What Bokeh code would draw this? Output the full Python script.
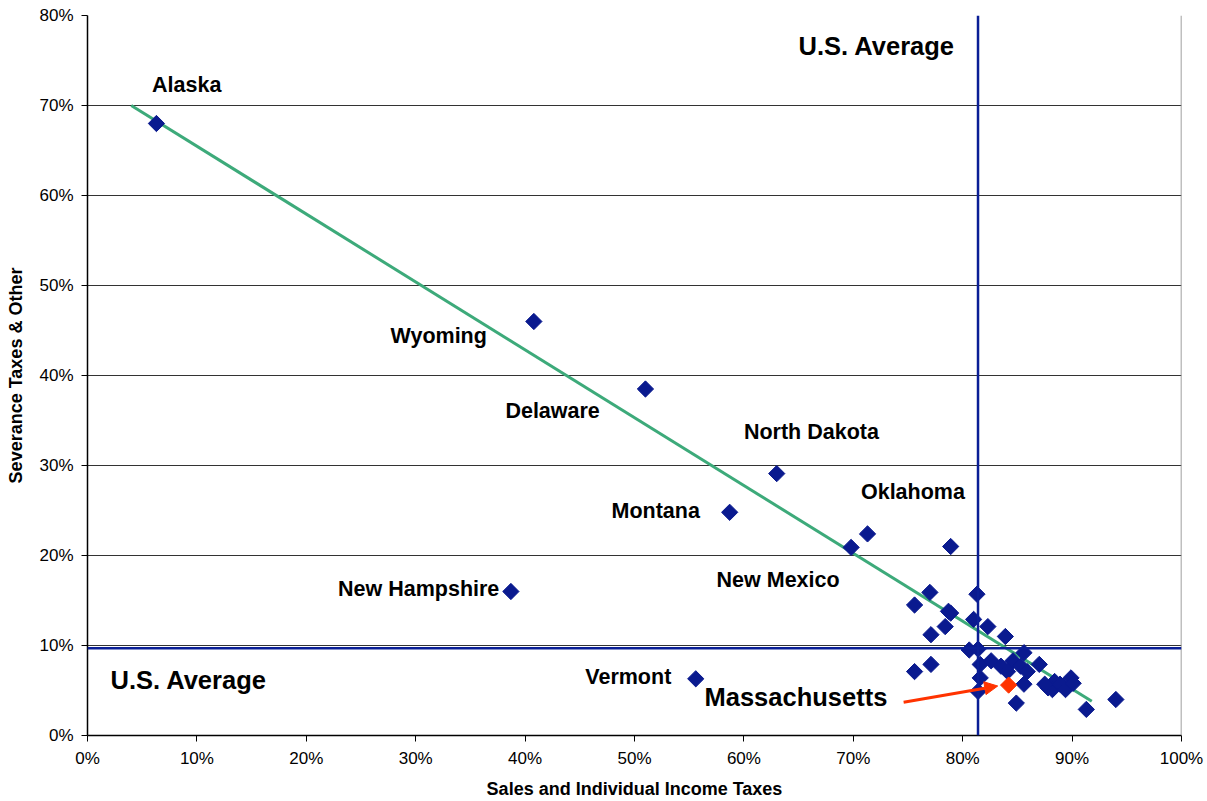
from bokeh.plotting import figure
from bokeh.models import (ColumnDataSource, Label, Arrow, NormalHead, Span,
                          PrintfTickFormatter, FixedTicker, Range1d)
from bokeh.embed import file_html
from bokeh.resources import INLINE
import math

# State tax mix: share of revenue from sales + individual income taxes (x)
# versus severance taxes & other (y), in percent.
sales_income = [6.3, 40.8, 51.0, 63.0, 58.7, 38.7, 55.6, 69.8, 71.3, 78.9,
                77.0, 75.6, 81.3, 78.9, 78.7, 78.4, 77.1, 81.0, 82.3, 83.9,
                80.6, 81.4, 85.6, 75.6, 77.1, 81.6, 82.6, 83.5, 84.1, 84.6,
                81.6, 85.3, 85.9, 87.0, 85.6, 81.4, 84.9, 87.8, 88.4, 88.2,
                87.5, 88.9, 89.4, 89.9, 90.1, 91.3, 94.0]
severance_other = [68.0, 46.0, 38.5, 29.1, 24.8, 16.0, 6.3, 20.9, 22.4, 21.0,
                   15.9, 14.5, 15.7, 13.6, 13.8, 12.1, 11.2, 12.9, 12.1, 11.0,
                   9.5, 9.6, 9.2, 7.1, 7.9, 7.9, 8.3, 7.7, 7.1, 8.3,
                   6.4, 7.7, 7.1, 7.9, 5.7, 4.9, 3.6, 5.3, 6.0, 5.1,
                   5.7, 5.7, 5.1, 6.4, 5.8, 2.9, 4.0]

# Massachusetts highlighted separately
ma_x = [84.2]
ma_y = [5.6]

# U.S. averages
us_avg_x = 81.4
us_avg_y = 9.7

# Linear trend line end points
trend_x = [4.0, 91.8]
trend_y = [70.0, 3.8]

# State name labels (x, y of left edge / vertical middle)
state_names = ["Alaska", "Wyoming", "Delaware", "North Dakota", "Oklahoma",
               "Montana", "New Mexico", "New Hampshire", "Vermont"]
state_lx = [5.9, 27.7, 38.2, 60.0, 70.7, 47.9, 57.5, 22.9, 45.5]
state_ly = [72.3, 44.4, 36.1, 33.7, 27.1, 25.0, 17.3, 16.3, 6.5]

x_ticks = list(range(0, 101, 10))
y_ticks = list(range(0, 81, 10))

FONT = "Liberation Sans"
NAVY = "#0A1A8F"
RED = "#FF3300"

p = figure(width=1207, height=801, output_backend="svg", toolbar_location=None,
           x_range=Range1d(0, 100), y_range=Range1d(0, 80),
           min_border_left=87, min_border_right=26, min_border_top=15,
           min_border_bottom=66)
p.outline_line_color = None
p.background_fill_color = "white"

# Grid: horizontal lines only
p.xgrid.grid_line_color = None
p.ygrid.grid_line_color = "#333333"
p.ygrid.grid_line_width = 1
p.ygrid.ticker = FixedTicker(ticks=y_ticks)

for ax in (p.xaxis[0], p.yaxis[0]):
    ax.axis_line_color = "black"
    ax.axis_line_width = 1.5
    ax.major_tick_line_color = "black"
    ax.major_tick_in = 0
    ax.major_tick_out = 6
    ax.minor_tick_line_color = None
    ax.major_label_text_font = FONT
    ax.major_label_text_font_size = "17px"
    ax.major_label_text_color = "black"
    ax.axis_label_text_font = FONT
    ax.axis_label_text_font_style = "bold"
    ax.axis_label_text_font_size = "18px"
    ax.axis_label_text_color = "black"

p.xaxis.ticker = FixedTicker(ticks=x_ticks)
p.yaxis.ticker = FixedTicker(ticks=y_ticks)
p.xaxis.formatter = PrintfTickFormatter(format="%d%%")
p.yaxis.formatter = PrintfTickFormatter(format="%d%%")
p.xaxis.major_label_standoff = 7
p.yaxis.major_label_standoff = 8
p.xaxis.axis_label = "Sales and Individual Income Taxes"
p.yaxis.axis_label = "Severance Taxes & Other"
p.xaxis.axis_label_standoff = 8
p.yaxis.axis_label_standoff = 10

# Right edge of the plot area
p.add_layout(Span(location=100, dimension="height",
                  line_color="#808080", line_width=1.5))

# U.S. average reference lines
p.add_layout(Span(location=us_avg_y, dimension="width",
                  line_color="#0A1E96", line_width=2.5))
p.add_layout(Span(location=us_avg_x, dimension="height",
                  line_color="#0A1E96", line_width=2.5))

# Trend line
p.line(trend_x, trend_y, line_color="#3DAA7A", line_width=3)

# States (rotated squares)
src = ColumnDataSource(dict(x=sales_income, y=severance_other))
p.scatter("x", "y", source=src, marker="square", size=11.5,
          angle=math.pi / 4, fill_color=NAVY, line_color=NAVY)
p.scatter(ma_x, ma_y, marker="square", size=11.5, angle=math.pi / 4,
          fill_color=RED, line_color=RED)

# Labels
for name, lx, ly in zip(state_names, state_lx, state_ly):
    p.add_layout(Label(x=lx, y=ly, text=name, text_font=FONT,
                       text_font_style="bold", text_font_size="21.5px",
                       text_align="left", text_baseline="middle",
                       text_color="black"))

for txt, lx, ly in [("U.S. Average", 2.1, 6.15), ("U.S. Average", 65.0, 76.6),
                    ("Massachusetts", 56.4, 4.26)]:
    p.add_layout(Label(x=lx, y=ly, text=txt, text_font=FONT,
                       text_font_style="bold", text_font_size="25.5px",
                       text_align="left", text_baseline="middle",
                       text_color="black"))

# Arrow pointing to Massachusetts
p.add_layout(Arrow(end=NormalHead(size=13, fill_color=RED, line_color=RED),
                   x_start=74.6, y_start=3.7, x_end=83.2, y_end=5.5,
                   line_color=RED, line_width=3))

open("out.html", "w").write(file_html(p, INLINE))
